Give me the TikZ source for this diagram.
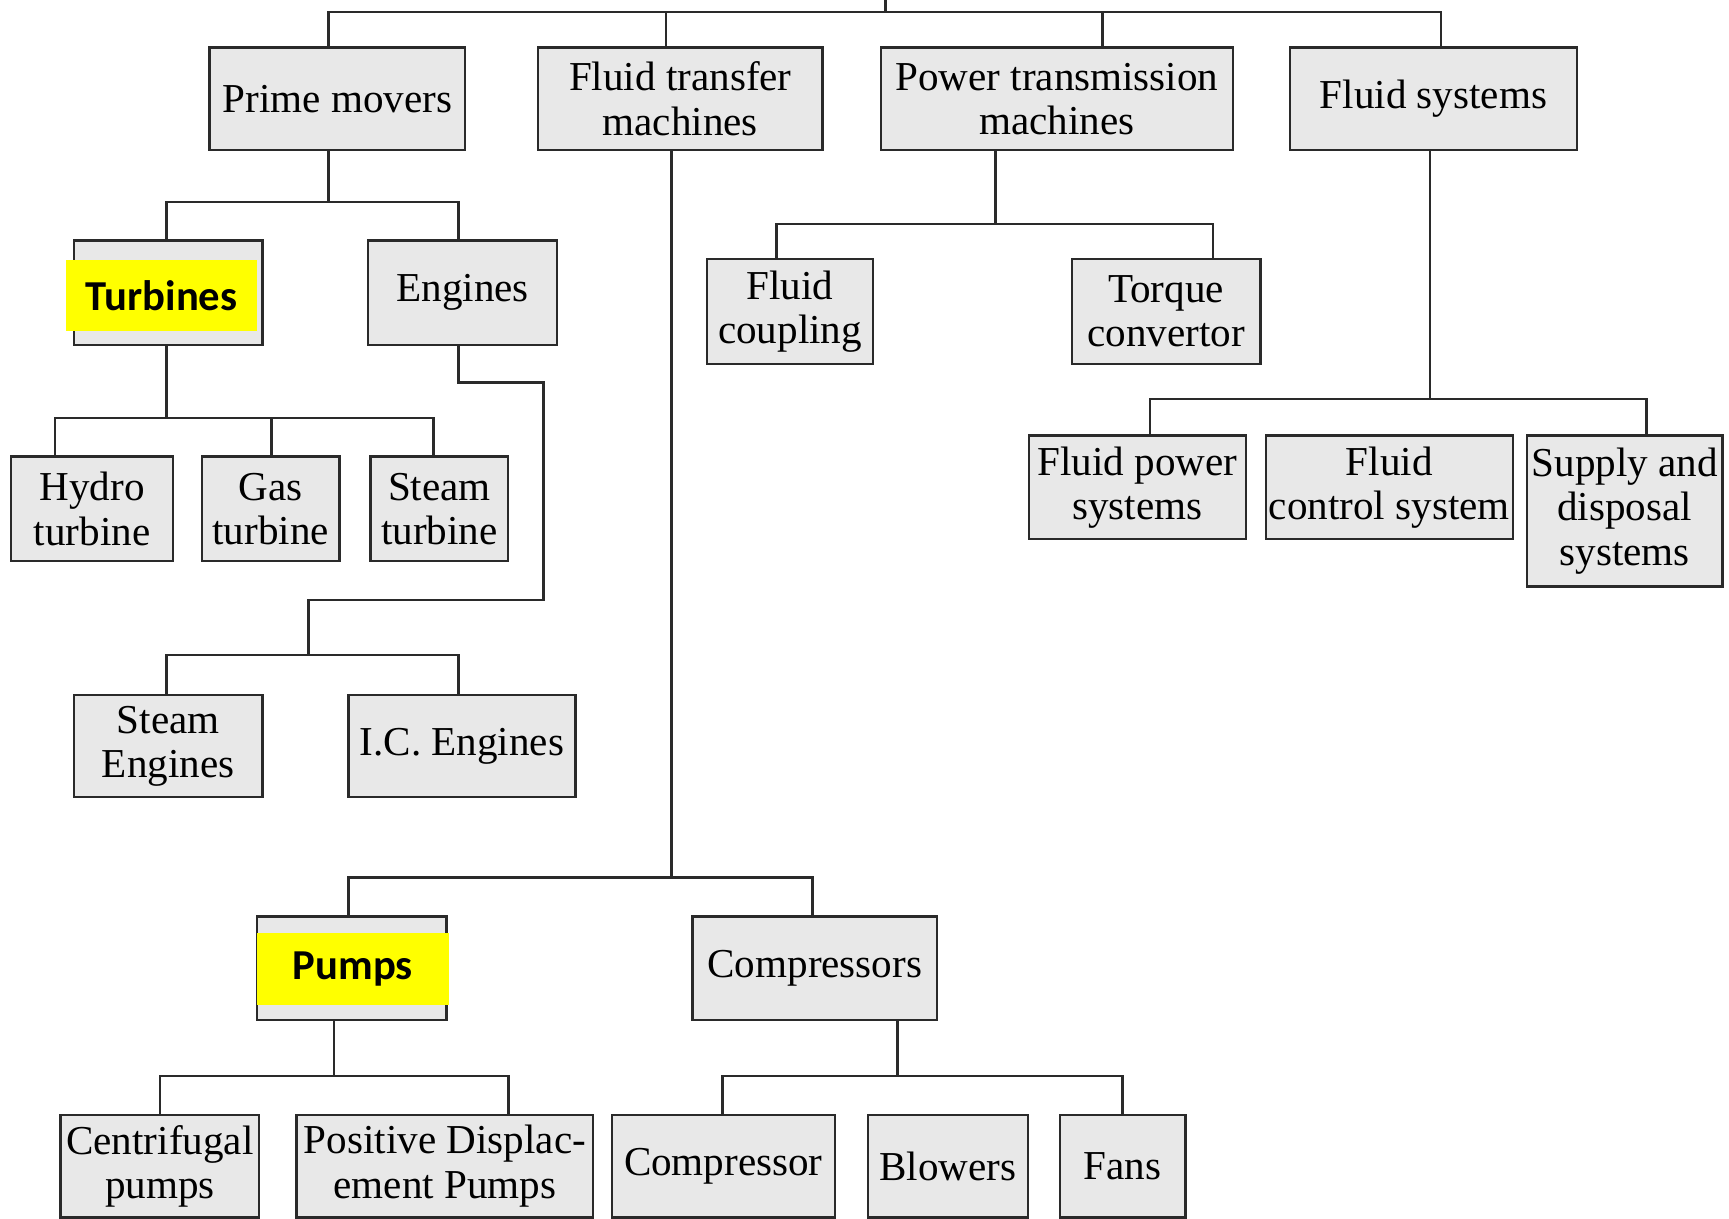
\documentclass[tikz,border=0pt]{standalone}
\usepackage{fontspec}
\setmainfont{Liberation Serif}
\newfontfamily\hlfont{Carlito}
\definecolor{boxgray}{HTML}{E8E8E8}
\definecolor{edgegray}{HTML}{2A2A2A}
\definecolor{hlyellow}{HTML}{FFFF00}
\newcommand{\Blk}[7][blk]{
    \node[#1, minimum width={(#5-#3)*0.01cm}, minimum height={(#6-#4)*0.01cm}]
        (#2) at ({(#3+#5)/2},{(#4+#6)/2}) {#7};
}

\begin{document}
\begin{tikzpicture}[x=0.01cm, y=-0.01cm,
        blk/.style={draw=edgegray, fill=boxgray, line width=0.6pt, inner sep=0pt, outer sep=0pt,
            align=center, font=\fontsize{10.6}{11.4}\selectfont},
        hl/.style={fill=hlyellow, inner sep=0pt, outer sep=0pt, align=center,
            font=\hlfont\bfseries\fontsize{11}{13}\selectfont},
        link/.style={draw=edgegray, line width=0.65pt}]
    \useasboundingbox (0,0) rectangle (1568,1105);

    \Blk{prime}{190}{43}{422}{136}{Prime movers}
    \Blk{fluidtr}{488}{43}{746}{136}{Fluid transfer\\machines}
    \Blk{powertr}{799}{43}{1118}{136}{Power transmission\\machines}
    \Blk{fsys}{1170}{43}{1430}{136}{Fluid systems}

    \Blk{turb}{67}{218}{238}{313}{}
    \Blk[hl]{turbhl}{60}{236}{233}{300}{Turbines}
    \Blk{eng}{334}{218}{505}{313}{Engines}
    \Blk{hydro}{10}{414}{157}{509}{Hydro\\turbine}
    \Blk{gas}{183}{414}{308}{509}{Gas\\turbine}
    \Blk{steamt}{336}{414}{461}{509}{Steam\\turbine}
    \Blk{steame}{67}{630}{238}{723}{Steam\\Engines}
    \Blk{ice}{316}{630}{522}{723}{I.C. Engines}

    \Blk{pumps}{233}{831}{405}{925}{}
    \Blk[hl]{pumpshl}{233}{846}{407}{911}{Pumps}
    \Blk{comps}{628}{831}{850}{925}{Compressors}
    \Blk{centr}{55}{1011}{235}{1104}{Centrifugal\\pumps}
    \Blk{posd}{269}{1011}{538}{1104}{Positive Displac-\\ement Pumps}
    \Blk{comp}{555}{1011}{757}{1104}{Compressor}
    \Blk{blow}{787}{1011}{932}{1104}{Blowers}
    \Blk{fans}{961}{1011}{1075}{1104}{Fans}

    \Blk{coupl}{641}{235}{792}{330}{Fluid\\coupling}
    \Blk{torq}{972}{235}{1143}{330}{Torque\\convertor}
    \Blk{fpow}{933}{395}{1130}{489}{Fluid power\\systems}
    \Blk{fctrl}{1148}{395}{1372}{489}{Fluid\\control system}
    \Blk{supply}{1385}{395}{1562}{532}{Supply and\\disposal\\systems}

    \coordinate (root) at (803,0);
    \coordinate (topbus) at (803,11);
    \draw[link] (root) -- (topbus);
    \foreach \n/\x in {prime/298, fluidtr/604, powertr/1000, fsys/1307}
        \draw[link] (topbus) -| (\n.north -| \x,0);

    \coordinate (pmbus) at (298,183);
    \draw[link] (prime.south -| pmbus) -- (pmbus);
    \foreach \n/\x in {turb/151, eng/416}
        \draw[link] (pmbus) -| (\n.north -| \x,0);

    \coordinate (tbbus) at (151,379);
    \draw[link] (turb.south -| tbbus) -- (tbbus);
    \foreach \n/\x in {hydro/50, gas/246, steamt/393}
        \draw[link] (tbbus) -| (\n.north -| \x,0);

    \coordinate (engbus) at (280,594);
    \draw[link] (eng.south -| 416,0) |- (493,347) -- (493,544) -| (engbus);
    \foreach \n/\x in {steame/151, ice/416}
        \draw[link] (engbus) -| (\n.north -| \x,0);

    \coordinate (ftbus) at (609,796);
    \draw[link] (fluidtr.south -| ftbus) -- (ftbus);
    \foreach \n/\x in {pumps/316, comps/737}
        \draw[link] (ftbus) -| (\n.north -| \x,0);

    \coordinate (pubus) at (303,976);
    \draw[link] (pumps.south -| pubus) -- (pubus);
    \foreach \n/\x in {centr/145, posd/461}
        \draw[link] (pubus) -| (\n.north -| \x,0);

    \coordinate (cobus) at (814,976);
    \draw[link] (comps.south -| cobus) -- (cobus);
    \foreach \n/\x in {comp/655, fans/1018}
        \draw[link] (cobus) -| (\n.north -| \x,0);

    \coordinate (ptbus) at (903,203);
    \draw[link] (powertr.south -| ptbus) -- (ptbus);
    \foreach \n/\x in {coupl/704, torq/1100}
        \draw[link] (ptbus) -| (\n.north -| \x,0);

    \coordinate (fsbus) at (1297,362);
    \draw[link] (fsys.south -| fsbus) -- (fsbus);
    \foreach \n/\x in {fpow/1043, supply/1493}
        \draw[link] (fsbus) -| (\n.north -| \x,0);
\end{tikzpicture}
\end{document}
